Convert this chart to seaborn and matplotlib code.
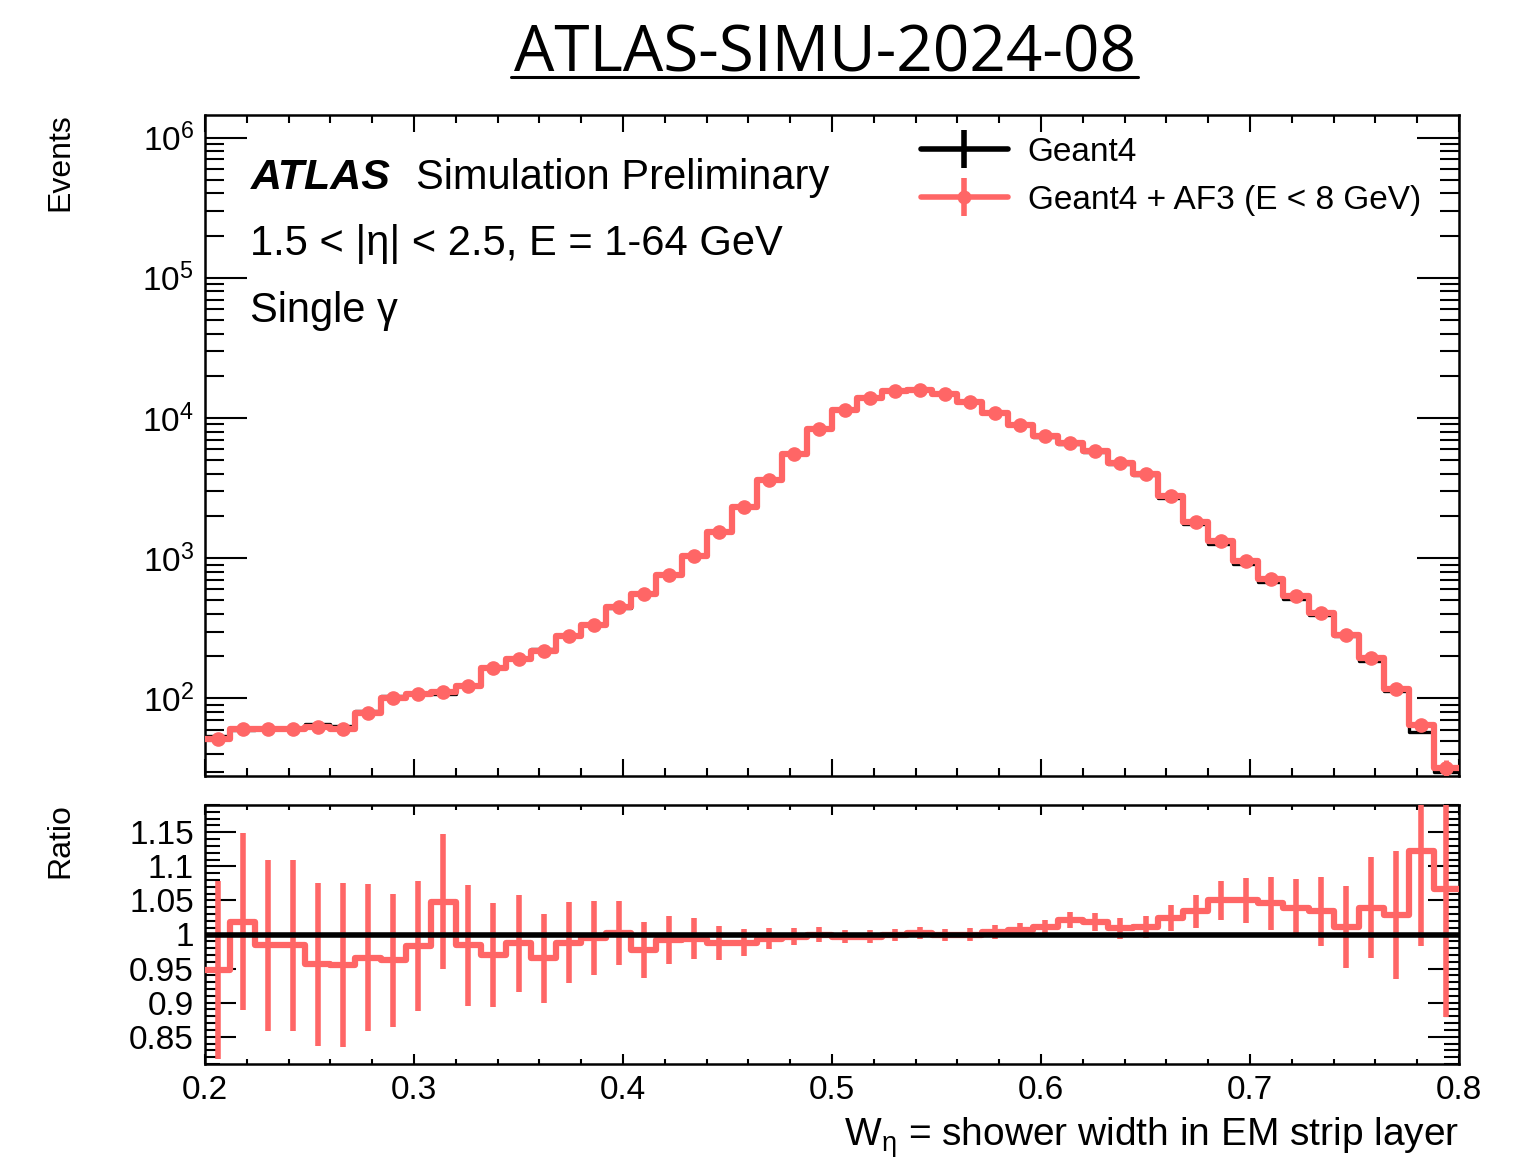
import numpy as np
import pandas as pd
import seaborn as sns
from matplotlib import pyplot as plt
from matplotlib.lines import Line2D
from matplotlib.ticker import LogLocator, MultipleLocator, FuncFormatter, NullFormatter

# binning of W_eta
w_min, w_max, n_bins = 0.2, 0.8, 50

# Geant4 + AF3 events per bin
af3_counts = [51, 61, 61, 61, 63, 61, 79, 100, 108, 112,
              122, 164, 190, 217, 277, 332, 446, 553, 756, 1030,
              1530, 2310, 3600, 5530, 8340, 11400, 13900, 15600, 15900, 14800,
              13000, 10900, 8920, 7430, 6620, 5810, 4770, 3980, 2770, 1810,
              1320, 952, 708, 535, 405, 282, 193, 116, 65, 32]

# ratio AF3 / Geant4 and its uncertainty
ratio = [0.948, 1.019, 0.984, 0.984, 0.956, 0.955, 0.966, 0.962, 0.983, 1.048,
         0.984, 0.970, 0.987, 0.965, 0.988, 0.995, 1.002, 0.977, 0.992, 0.994,
         0.988, 0.988, 0.994, 0.997, 1.000, 0.997, 0.997, 0.999, 1.002, 0.999,
         1.000, 1.004, 1.007, 1.011, 1.021, 1.018, 1.009, 1.011, 1.024, 1.034,
         1.050, 1.050, 1.046, 1.039, 1.034, 1.011, 1.039, 1.028, 1.122, 1.067]
ratio_err = [0.130, 0.130, 0.125, 0.125, 0.120, 0.120, 0.108, 0.097, 0.095, 0.099,
             0.089, 0.076, 0.071, 0.065, 0.059, 0.054, 0.047, 0.041, 0.035, 0.030,
             0.025, 0.020, 0.015, 0.012, 0.011, 0.009, 0.009, 0.009, 0.009, 0.009,
             0.009, 0.010, 0.010, 0.011, 0.012, 0.013, 0.015, 0.016, 0.019, 0.024,
             0.029, 0.033, 0.039, 0.043, 0.051, 0.060, 0.074, 0.094, 0.139, 0.188]

edges = np.linspace(w_min, w_max, n_bins + 1)
df = pd.DataFrame({
    "w": 0.5 * (edges[:-1] + edges[1:]),
    "af3": af3_counts,
    "ratio": ratio,
    "ratio_err": ratio_err,
})
df["g4"] = df["af3"] / df["ratio"]
df["af3_err"] = df["af3"] * df["ratio_err"] / np.sqrt(2)

W, H = 1517, 1162
RED = "#ff6666"
hist_kw = dict(x="w", bins=n_bins, binrange=(w_min, w_max), element="step", fill=False)

sns.set_style("ticks")
plt.rcParams["font.family"] = ["Liberation Sans", "DejaVu Sans"]
plt.rcParams["mathtext.fontset"] = "custom"
plt.rcParams["mathtext.rm"] = "Liberation Sans"
plt.rcParams["mathtext.it"] = "Liberation Sans:italic"
plt.rcParams["mathtext.default"] = "regular"
for key in ["text.color", "axes.labelcolor", "axes.edgecolor", "xtick.color", "ytick.color"]:
    plt.rcParams[key] = "black"


def px(x, y):
    return x / W, 1 - y / H


fig = plt.figure(figsize=(W / 100, H / 100), dpi=100)
ax1 = fig.add_axes([205 / W, 1 - 776 / H, 1254 / W, 661 / H])
ax2 = fig.add_axes([205 / W, 1 - 1064 / H, 1254 / W, 259 / H])

# --- main panel
sns.histplot(df, weights="g4", color="black", linewidth=2.4, ax=ax1, zorder=2, **hist_kw)
sns.histplot(df, weights="af3", color=RED, linewidth=4.5, ax=ax1, zorder=3, **hist_kw)
ax1.errorbar(df["w"], df["af3"], yerr=df["af3_err"], fmt="o", color=RED, ms=9.5,
             elinewidth=3.5, capsize=0, zorder=4)
ax1.set_yscale("log")
ax1.set(xlim=(w_min, w_max), ylim=(28, 1.45e6), xlabel="", ylabel="")
ax1.xaxis.set_major_locator(MultipleLocator(0.1))
ax1.xaxis.set_minor_locator(MultipleLocator(0.02))
ax1.xaxis.set_major_formatter(NullFormatter())
ax1.yaxis.set_major_locator(LogLocator(base=10, numticks=10))
ax1.yaxis.set_minor_locator(LogLocator(base=10, subs=np.arange(2, 10), numticks=20))
ax1.yaxis.set_minor_formatter(NullFormatter())
ax1.tick_params(axis="both", which="both", direction="in", top=True, right=True,
                width=1.5, labelsize=24, pad=8)
ax1.tick_params(axis="x", which="major", length=12)
ax1.tick_params(axis="x", which="minor", length=5.5)
ax1.tick_params(axis="y", which="major", length=30)
ax1.tick_params(axis="y", which="minor", length=14)

# --- ratio panel
sns.histplot(df, weights="ratio", color=RED, linewidth=4.5, ax=ax2, zorder=3, **hist_kw)
ax2.errorbar(df["w"], df["ratio"], yerr=df["ratio_err"], fmt="none", ecolor=RED,
             elinewidth=4, capsize=0, zorder=3)
ax2.axhline(1.0, color="black", linewidth=4, zorder=5)
ax2.set(xlim=(w_min, w_max), ylim=(0.81, 1.19), xlabel="", ylabel="")
ax2.xaxis.set_major_locator(MultipleLocator(0.1))
ax2.xaxis.set_minor_locator(MultipleLocator(0.02))
ax2.yaxis.set_major_locator(MultipleLocator(0.05))
ax2.yaxis.set_minor_locator(MultipleLocator(0.01))
ax2.xaxis.set_major_formatter(FuncFormatter(lambda v, p: f"{v:.1f}"))
ax2.yaxis.set_major_formatter(FuncFormatter(lambda v, p: f"{v:g}"))
ax2.tick_params(axis="both", which="both", direction="in", top=True, right=True,
                width=1.5, labelsize=24, pad=8)
ax2.tick_params(axis="x", which="major", length=7.5)
ax2.tick_params(axis="x", which="minor", length=3.8)
ax2.tick_params(axis="y", which="major", length=22)
ax2.tick_params(axis="y", which="minor", length=11)

for ax in (ax1, ax2):
    for s in ax.spines.values():
        s.set_linewidth(1.8)

# --- labels
fig.text(*px(60, 113), "Events", rotation=90, ha="center", va="top", fontsize=23)
fig.text(*px(60, 803), "Ratio", rotation=90, ha="center", va="top", fontsize=23)
fig.text(*px(1459, 1146), r"W$_\eta$ = shower width in EM strip layer",
         ha="right", va="baseline", fontsize=28)

fig.text(*px(251, 189), "ATLAS", fontsize=31, fontweight="bold", fontstyle="italic",
         va="baseline")
fig.text(*px(416, 189), "Simulation Preliminary", fontsize=30, va="baseline")
fig.text(*px(250, 255), "1.5 < |η| < 2.5, E = 1-64 GeV", fontsize=30, va="baseline")
fig.text(*px(250, 322), "Single γ", fontsize=30, va="baseline")

# --- legend
h_g4 = (Line2D([], [], color="black", lw=4),
        Line2D([], [], color="black", marker="|", ms=28, mew=4, ls="none"))
h_af3 = (Line2D([], [], color=RED, lw=4),
         Line2D([], [], color=RED, marker="|", ms=28, mew=4, ls="none"),
         Line2D([], [], color=RED, marker="o", ms=9, ls="none"))
ax1.legend([h_g4, h_af3], ["Geant4", "Geant4 + AF3 (E < 8 GeV)"],
           loc="upper left", bbox_to_anchor=px(921, 137), bbox_transform=fig.transFigure,
           frameon=False, fontsize=24, handlelength=2.6, handletextpad=0.6,
           labelspacing=0.5, borderpad=0, borderaxespad=0)

# --- title
fig.text(*px(825, 72), "ATLAS-SIMU-2024-08", ha="center", va="baseline",
         fontsize=46, family="Open Sans")
fig.add_artist(Line2D([511 / W, 1138 / W], [1 - 77 / H, 1 - 77 / H],
                      color="black", lw=2.2))

fig.savefig("out.png", dpi=100)
